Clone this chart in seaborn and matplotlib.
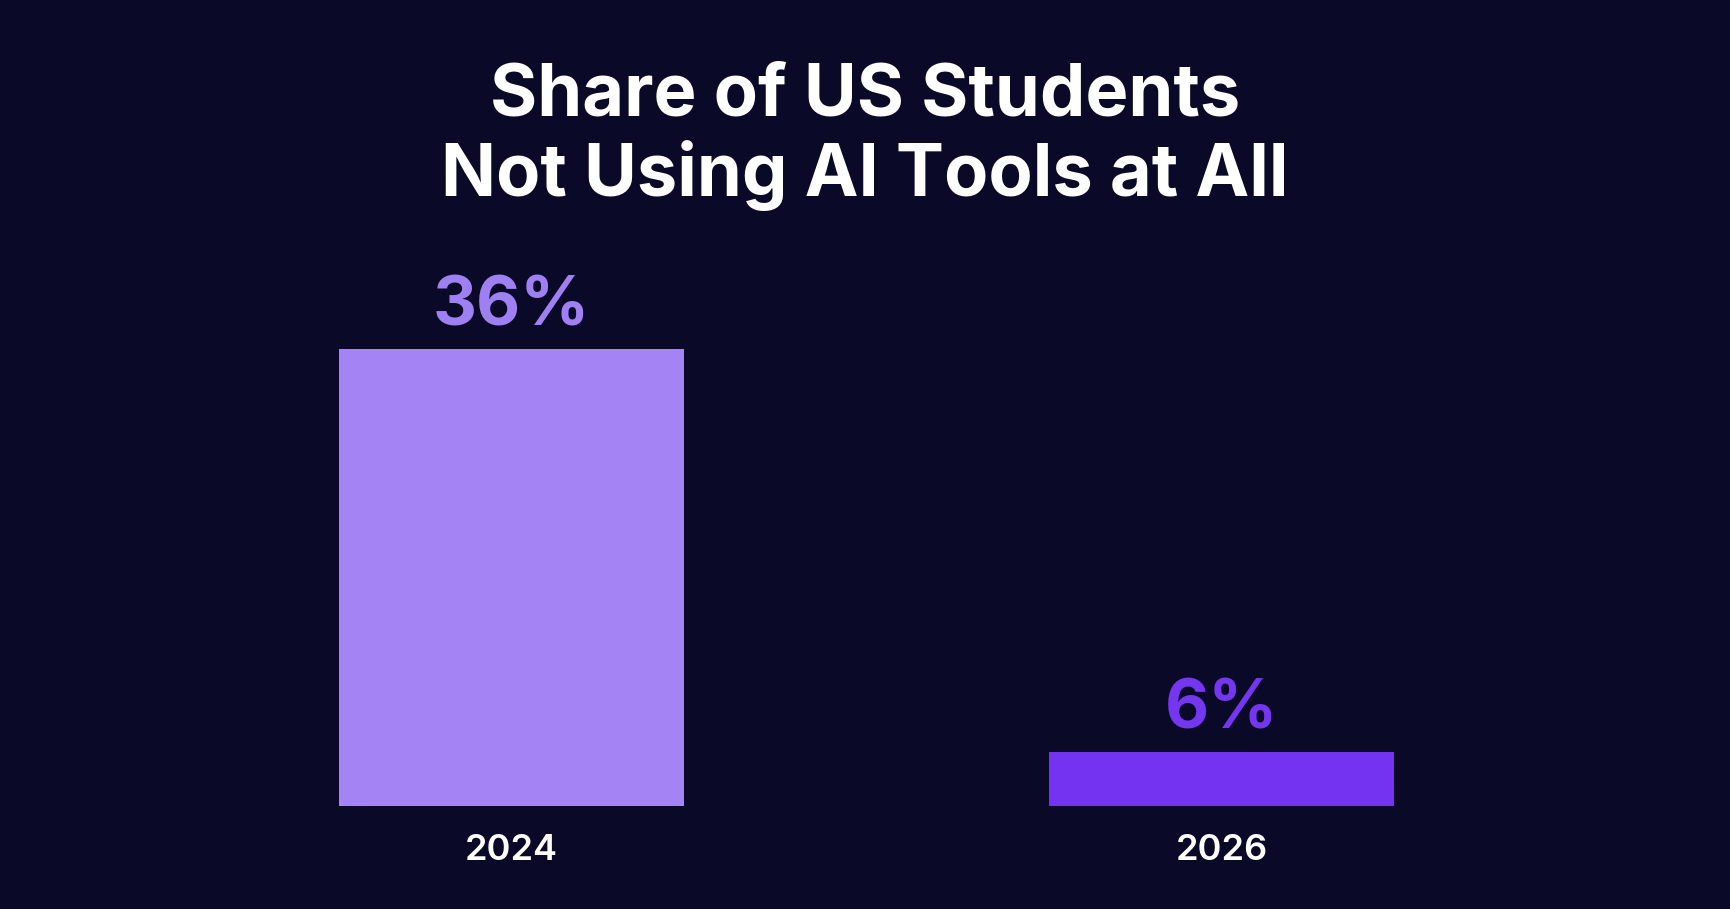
import matplotlib
matplotlib.use("Agg")
import matplotlib.pyplot as plt
import seaborn as sns
import pandas as pd

years = ["2024", "2026"]
shares = [36, 6]
bar_colors = ["#A484F5", "#7433F0"]
label_colors = ["#9F80F3", "#7436EE"]
title_lines = ["Share of US Students", "Not Using AI Tools at All"]

BG = "#0B0928"
sns.set_theme(style="white")
plt.rcParams["font.family"] = ["Inter", "DejaVu Sans"]

df = pd.DataFrame({"year": years, "share": shares})

fig = plt.figure(figsize=(17.3, 9.09), dpi=100, facecolor=BG)
ax = fig.add_axes([0, 0.1133, 1, 0.6667])
ax.set_facecolor(BG)

sns.barplot(data=df, x="year", y="share", hue="year", palette=bar_colors,
            width=0.486, legend=False, ax=ax, saturation=1, linewidth=0)

ax.set_xlim(-0.7204, 1.7162)
ax.set_ylim(1.98, 47.1)

for i, (v, c) in enumerate(zip(shares, label_colors)):
    ax.annotate(f"{v}%", xy=(i, v), xytext=(0, 17), textcoords="offset points",
                ha="center", va="baseline", fontsize=49, fontweight="bold", color=c)

ax.set_xlabel("")
ax.set_ylabel("")
ax.set_yticks([])
ax.tick_params(axis="x", length=0, pad=20, labelsize=26, labelcolor="white")
for lab in ax.get_xticklabels():
    lab.set_fontweight("semibold")
for s in ax.spines.values():
    s.set_visible(False)

for line, yb in zip(title_lines, [0.8724, 0.7844]):
    fig.text(0.5, yb, line, ha="center", va="baseline", fontsize=52,
             fontweight="bold", color="white")

fig.savefig("out.png", dpi=100, facecolor=BG)
